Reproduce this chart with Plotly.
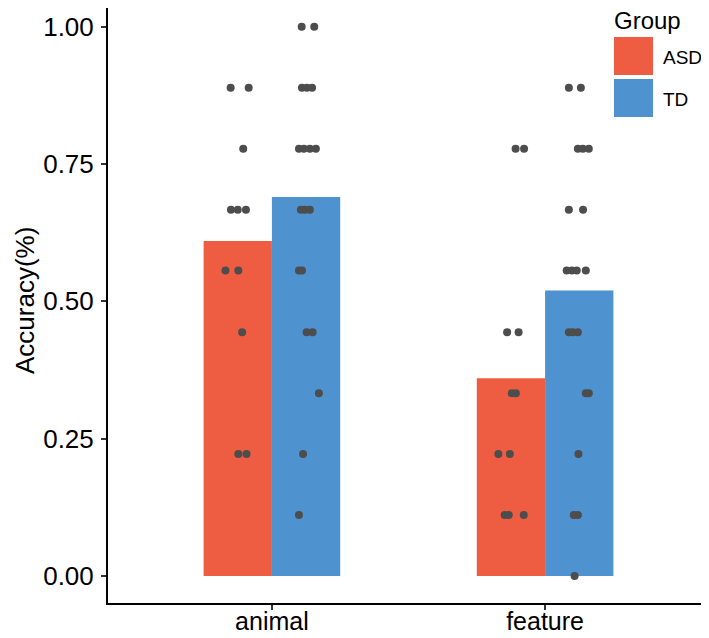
import plotly.graph_objects as go

categories = ["animal", "feature"]
cat_pos = [1, 2]
groups = ["ASD", "TD"]
colors = ["#EE5D41", "#4E92D0"]

# mean accuracy per group (animal, feature)
asd_mean = [0.61, 0.36]
td_mean = [0.69, 0.52]

# individual accuracies and their horizontal jitter (category units)
asd_animal_acc = [0.889, 0.889, 0.778, 0.667, 0.667, 0.667, 0.556, 0.556, 0.444, 0.222, 0.222]
asd_animal_jit = [-0.151, -0.085, -0.105, -0.150, -0.125, -0.095, -0.170, -0.123, -0.109, -0.123, -0.093]

td_animal_acc = [1.0, 1.0, 0.889, 0.889, 0.889, 0.778, 0.778, 0.778, 0.778, 0.667, 0.667, 0.667,
                 0.556, 0.556, 0.444, 0.444, 0.333, 0.222, 0.111]
td_animal_jit = [0.109, 0.155, 0.110, 0.128, 0.147, 0.099, 0.117, 0.139, 0.161, 0.106, 0.121, 0.139,
                 0.099, 0.110, 0.127, 0.149, 0.172, 0.114, 0.099]

asd_feature_acc = [0.778, 0.778, 0.444, 0.444, 0.333, 0.333, 0.222, 0.222, 0.111, 0.111, 0.111]
asd_feature_jit = [-0.108, -0.077, -0.139, -0.097, -0.122, -0.107, -0.171, -0.129, -0.148, -0.133, -0.078]

td_feature_acc = [0.889, 0.889, 0.778, 0.778, 0.778, 0.667, 0.667, 0.556, 0.556, 0.556, 0.556,
                  0.444, 0.444, 0.444, 0.333, 0.333, 0.222, 0.111, 0.111, 0.0]
td_feature_jit = [0.087, 0.131, 0.120, 0.138, 0.160, 0.087, 0.139, 0.079, 0.098, 0.116, 0.149,
                  0.087, 0.101, 0.120, 0.149, 0.160, 0.122, 0.105, 0.120, 0.108]

y_ticks = [0, 0.25, 0.5, 0.75, 1.0]

FONT = "Liberation Sans, Arial, sans-serif"
bar_w = 0.25

fig = go.Figure()

fig.add_trace(go.Bar(
    x=[p - bar_w / 2 for p in cat_pos], y=asd_mean, width=bar_w,
    marker=dict(color=colors[0], line=dict(width=0)), name="ASD", showlegend=False))
fig.add_trace(go.Bar(
    x=[p + bar_w / 2 for p in cat_pos], y=td_mean, width=bar_w,
    marker=dict(color=colors[1], line=dict(width=0)), name="TD", showlegend=False))

point_sets = [
    (cat_pos[0], asd_animal_acc, asd_animal_jit),
    (cat_pos[0], td_animal_acc, td_animal_jit),
    (cat_pos[1], asd_feature_acc, asd_feature_jit),
    (cat_pos[1], td_feature_acc, td_feature_jit),
]
for pos, acc, jit in point_sets:
    fig.add_trace(go.Scatter(
        x=[pos + j for j in jit], y=acc, mode="markers",
        marker=dict(color="#4D4D4D", size=8, line=dict(width=0)),
        showlegend=False, hoverinfo="y"))

# page body has an 8px margin, so the figure is 8px smaller and the
# legend / y title are placed in page pixels converted to paper coords
W, H = 601, 595
def px(x):
    return (x - 108) / W
def py(y):
    return (603 - y) / H

fig.add_shape(type="rect", xref="paper", yref="paper", x0=px(614), x1=px(653), y0=py(75), y1=py(37),
              fillcolor=colors[0], line=dict(width=0))
fig.add_shape(type="rect", xref="paper", yref="paper", x0=px(614), x1=px(653), y0=py(117), y1=py(79),
              fillcolor=colors[1], line=dict(width=0))
fig.add_annotation(text="Group", xref="paper", yref="paper", x=px(612), y=py(20), xanchor="left",
                   yanchor="middle", showarrow=False, font=dict(size=24, color="black", family=FONT))
fig.add_annotation(text="ASD", xref="paper", yref="paper", x=px(661), y=py(57), xanchor="left",
                   yanchor="middle", showarrow=False, font=dict(size=19, color="black", family=FONT))
fig.add_annotation(text="TD", xref="paper", yref="paper", x=px(661), y=py(99), xanchor="left",
                   yanchor="middle", showarrow=False, font=dict(size=19, color="black", family=FONT))
fig.add_annotation(text="Accuracy(%)", xref="paper", yref="paper", x=px(25), y=py(301),
                   xanchor="center", yanchor="middle", textangle=-90, showarrow=False, borderpad=0,
                   font=dict(size=26, color="black", family=FONT))

fig.update_layout(
    width=701, height=630,
    margin=dict(l=100, r=0, t=0, b=35),
    paper_bgcolor="white", plot_bgcolor="white",
    barmode="overlay",
    font=dict(family=FONT, color="black"),
    xaxis=dict(
        range=[0.4, 2.6], tickvals=cat_pos, ticktext=categories,
        showline=True, linecolor="black", linewidth=2, mirror=False,
        ticks="outside", ticklen=5, tickwidth=1.5, tickcolor="#333333",
        showgrid=False, zeroline=False, tickfont=dict(size=25, color="black"),
        ticklabelstandoff=-10, automargin=False, fixedrange=True),
    yaxis=dict(
        range=[-0.049, 1.034], tickvals=y_ticks, ticktext=[f"{v:.2f}" for v in y_ticks],
        showline=True, linecolor="black", linewidth=2,
        ticks="outside", ticklen=5, tickwidth=1.5, tickcolor="#333333",
        showgrid=False, zeroline=False, tickfont=dict(size=26, color="black"),
        ticklabelstandoff=2, automargin=False, fixedrange=True),
)

fig.write_html("out.html")
